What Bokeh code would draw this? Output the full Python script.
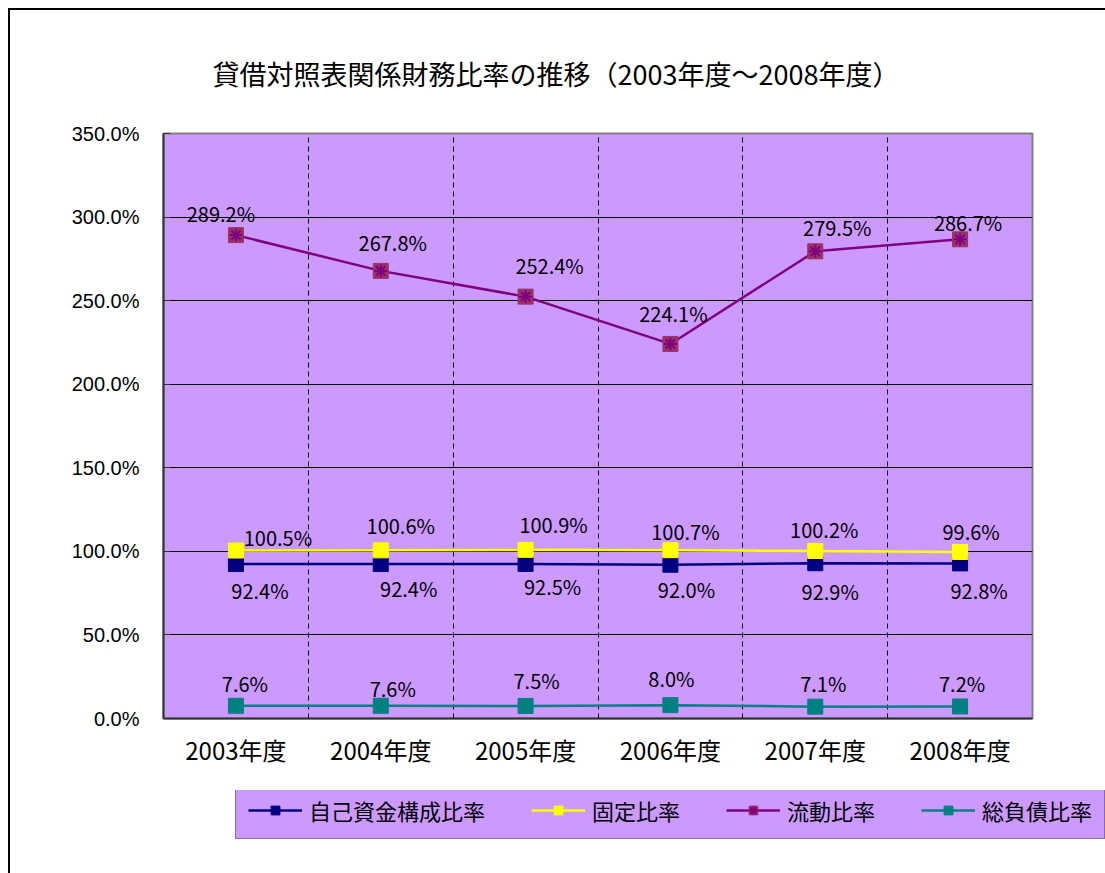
from bokeh.plotting import figure
from bokeh.layouts import column
from bokeh.models import (FixedTicker, PrintfTickFormatter, Legend, LegendItem,
                          Title, ColumnDataSource, Range1d)
from bokeh.embed import file_html
from bokeh.resources import INLINE
from bokeh.core.properties import value

# ---- data ----
categories = ["2003年度", "2004年度", "2005年度", "2006年度", "2007年度", "2008年度"]
equity_ratio = [92.4, 92.4, 92.5, 92.0, 92.9, 92.8]        # 自己資金構成比率
fixed_ratio = [100.5, 100.6, 100.9, 100.7, 100.2, 99.6]    # 固定比率
current_ratio = [289.2, 267.8, 252.4, 224.1, 279.5, 286.7]  # 流動比率
debt_ratio = [7.6, 7.6, 7.5, 8.0, 7.1, 7.2]                 # 総負債比率
series_names = ["自己資金構成比率", "固定比率", "流動比率", "総負債比率"]
y_ticks = [0, 50, 100, 150, 200, 250, 300, 350]
title_text = "貸借対照表関係財務比率の推移（2003年度～2008年度）"

# ---- label placement (pixel offsets from each point, screen y downwards) ----
equity_dx = [24, 28, 27, 16, 15, 19]
equity_dy = [26, 24, 23, 25, 28, 27]
fixed_dx = [42, 20, 28, 15, 9, 11]
fixed_dy = [-13, -25, -25, -19, -22, -21]
current_dx = [-15, 12, 24, 3, 22, 8]
current_dy = [-22, -28, -31, -30, -24, -17]
debt_dx = [9, 12, 11, 1, 8, 2]
debt_dy = [-22, -17, -25, -27, -23, -23]

JP = "Noto Sans CJK JP"
PURPLE_BG = "#CC99FF"

xs = list(range(len(categories)))

p = figure(width=1095, height=780, output_backend="svg", toolbar_location=None,
           x_range=Range1d(-0.5, len(categories) - 0.5), y_range=Range1d(0, 350),
           min_border_left=153, min_border_right=73, min_border_top=123,
           min_border_bottom=72)
p.frame_align = False
p.background_fill_color = PURPLE_BG
p.border_fill_color = "white"
p.outline_line_color = "#808080"
p.outline_line_width = 2

# axes
p.yaxis.ticker = FixedTicker(ticks=y_ticks)
p.yaxis.formatter = PrintfTickFormatter(format="%.1f%%")
p.yaxis.major_label_text_font = "Liberation Sans"
p.yaxis.major_label_text_font_size = "20px"
p.yaxis.major_label_text_color = "black"
p.yaxis.major_label_standoff = 24
p.yaxis.major_tick_in = 7
p.yaxis.major_tick_out = 0
p.yaxis.minor_tick_line_color = None
p.yaxis.axis_line_color = "#333333"
p.yaxis.axis_line_width = 2
p.yaxis.major_tick_line_color = "#333333"

p.xaxis.ticker = FixedTicker(ticks=xs)
p.xaxis.major_label_overrides = {i: c for i, c in zip(xs, categories)}
p.xaxis.major_label_text_font = JP
p.xaxis.major_label_text_font_size = "24px"
p.xaxis.major_label_text_color = "black"
p.xaxis.major_label_standoff = 7
p.xaxis.major_tick_line_color = None
p.xaxis.minor_tick_line_color = None
p.xaxis.axis_line_color = "#333333"
p.xaxis.axis_line_width = 2

# grids
p.ygrid.ticker = FixedTicker(ticks=y_ticks)
p.ygrid.grid_line_color = "black"
p.ygrid.grid_line_width = 1
p.xgrid.ticker = FixedTicker(ticks=[i + 0.5 for i in xs[:-1]])
p.xgrid.grid_line_color = "black"
p.xgrid.grid_line_width = 1
p.xgrid.grid_line_dash = "5 4"

# legend holder figure (below the chart)
lf = figure(width=1095, height=83, output_backend="svg", toolbar_location=None,
            x_axis_location=None, y_axis_location=None, min_border=0,
            x_range=Range1d(0, 1), y_range=Range1d(0, 1))
lf.frame_align = False
lf.outline_line_color = None
lf.background_fill_color = "white"
lf.border_fill_color = "white"
lf.grid.visible = False

# series
series = [
    (equity_ratio, "#000080", "#000080", equity_dx, equity_dy),
    (fixed_ratio, "#FFFF00", "#FFFF00", fixed_dx, fixed_dy),
    (current_ratio, "#800080", "#993366", current_dx, current_dy),
    (debt_ratio, "#008080", "#008080", debt_dx, debt_dy),
]
items = []
for name, (vals, lc, mc, dx, dy) in zip(series_names, series):
    src = ColumnDataSource(dict(x=xs, y=vals, label=[f"{v:.1f}%" for v in vals], dx=dx, dy=dy))
    p.line("x", "y", source=src, line_color=lc, line_width=2.5)
    p.scatter("x", "y", source=src, marker="square", size=15,
              fill_color=mc, line_color=mc, line_width=1)
    if name == "流動比率":
        p.scatter("x", "y", source=src, marker="asterisk", size=13,
                  line_color="#800080", line_width=2)
    p.text("x", "y", text="label", source=src, x_offset="dx", y_offset="dy",
           text_align="center", text_baseline="middle",
           text_font=value(JP), text_font_size="20px", text_color="black")

    # legend proxies (off-range points) in the legend figure
    proxy = ColumnDataSource(dict(x=[-10, -9], y=[-10, -10]))
    rl = lf.line("x", "y", source=proxy, line_color=lc, line_width=2.5)
    rm = lf.scatter("x", "y", source=proxy, marker="square", size=16,
                    fill_color=mc, line_color=mc, line_width=1)
    rends = [rl, rm]
    if name == "流動比率":
        ra = lf.scatter("x", "y", source=proxy, marker="asterisk", size=14,
                        line_color="#800080", line_width=2)
        rends.append(ra)
    items.append(LegendItem(label=name, renderers=rends))

legend = Legend(items=items, orientation="horizontal", location=(225, 34),
                glyph_width=54, glyph_height=22, label_height=22,
                label_standoff=7, spacing=46, padding=12, margin=0,
                label_text_font=JP, label_text_font_size="22px",
                label_text_color="black",
                background_fill_color=PURPLE_BG, background_fill_alpha=1,
                border_line_color="#404040", border_line_width=1.5)
lf.add_layout(legend)

title = Title(text=title_text, align="left", offset=49, standoff=82,
              text_font=JP, text_font_size="27px", text_font_style="normal",
              text_color="black")
p.add_layout(title, "above")

layout = column(p, lf, spacing=0,
                styles={"margin-left": "8px", "margin-top": "8px",
                        "border-left": "2px solid black",
                        "border-top": "2px solid black"})

open("out.html", "w").write(file_html(layout, INLINE))
